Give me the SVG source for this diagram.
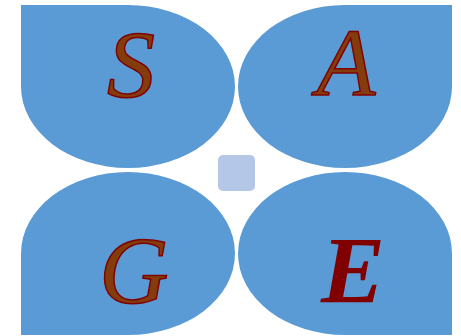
<svg xmlns="http://www.w3.org/2000/svg" width="461" height="336" viewBox="0 0 461 336">
<style>
.petal{fill:#5b9bd5;}
.ltr{font-family:"Liberation Serif","DejaVu Serif",serif;font-style:italic;font-size:96px;text-anchor:middle;fill:#843c0c;stroke:#800000;stroke-width:1.5px;}
.ltr2{fill:#800000;stroke:none;font-weight:bold;}
</style>
<rect width="461" height="336" fill="#ffffff"/>
<g id="node-s">
<path class="petal" d="M21,5 H128 A107,81.5 0 0 1 235,86.5 A107,81.5 0 0 1 128,168 A107,81.5 0 0 1 21,86.5 Z"/>
<text class="ltr" x="131" y="97">S</text>
</g>
<g id="node-a">
<path class="petal" d="M452,5 H345 A107,81.5 0 0 0 238,86.5 A107,81.5 0 0 0 345,168 A107,81.5 0 0 0 452,86.5 Z"/>
<text class="ltr" x="346" y="95">A</text>
</g>
<g id="node-g">
<path class="petal" d="M21,335 H128 A107,81.5 0 0 0 235,253.5 A107,81.5 0 0 0 128,172 A107,81.5 0 0 0 21,253.5 Z"/>
<text class="ltr" x="134" y="303">G</text>
</g>
<g id="node-e">
<path class="petal" d="M452,335 H345 A107,81.5 0 0 1 238,253.5 A107,81.5 0 0 1 345,172 A107,81.5 0 0 1 452,253.5 Z"/>
<text class="ltr ltr2" x="353" y="303">E</text>
</g>
<g id="node-center">
<rect x="218" y="155" width="37" height="36" rx="5" fill="#b4c7e7"/>
</g>
<g id="connectors"></g>
</svg>
